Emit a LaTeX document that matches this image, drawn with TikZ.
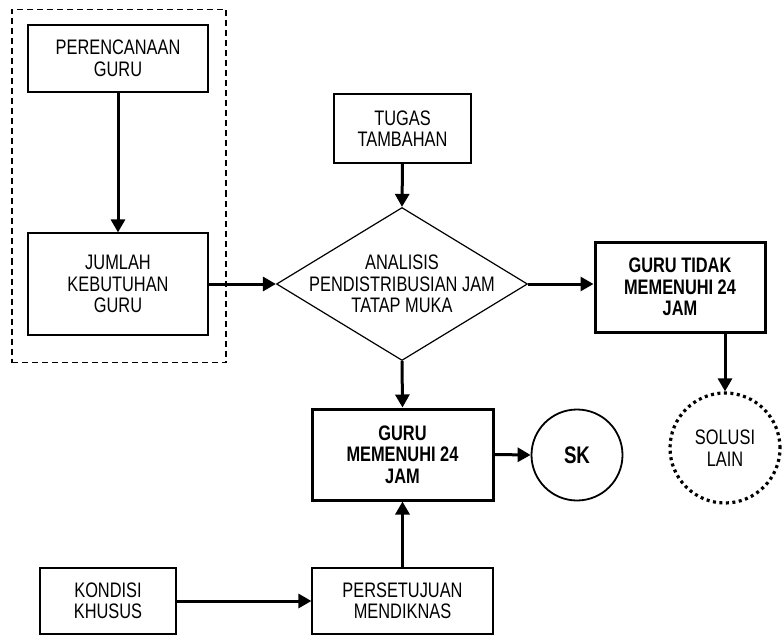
\documentclass[tikz,border=0pt]{standalone}
\usepackage{fontspec}
\setmainfont{Liberation Sans}[FakeStretch=0.78]
\usetikzlibrary{arrows.meta,shapes.geometric}
\begin{document}
\begin{tikzpicture}[x=1pt,y=-1pt,
  txt/.style={align=center,font=\fontsize{21}{21.5}\selectfont,inner sep=0pt},
  thinbox/.style={draw,line width=1.2pt,txt},
  thickbox/.style={draw,line width=3pt,txt,font=\fontsize{21}{21.5}\selectfont\bfseries},
  arr/.style={line width=3pt,-{Triangle[length=13pt,width=14pt]}},
]
\useasboundingbox (0,0) rectangle (783,636);
% dashed group
\node[draw,dashed,line width=1.2pt,dash pattern=on 6pt off 4pt,minimum width=214pt,minimum height=353pt,inner sep=0pt] (grp) at (119,186) {};
\node[thinbox,minimum width=180pt,minimum height=67pt] (pg) at (118,58.5) {PERENCANAAN\\GURU};
\node[thinbox,minimum width=180pt,minimum height=102pt] (jk) at (118,284) {JUMLAH\\KEBUTUHAN\\GURU};
\node[thinbox,minimum width=137pt,minimum height=69pt] (tt) at (402.5,128.5) {TUGAS\\TAMBAHAN};
\node[draw,diamond,line width=1.2pt,minimum width=251pt,minimum height=153pt,inner sep=0pt] (d) at (402,284) {};
\node[txt] (dt) at (d.center) {ANALISIS\\PENDISTRIBUSIAN JAM\\TATAP MUKA};
\node[thickbox,minimum width=170pt,minimum height=90pt] (gt) at (680,287) {GURU TIDAK\\MEMENUHI 24\\JAM};
\node[draw,circle,dotted,line width=3.2pt,dash pattern=on 3pt off 3.5pt,minimum size=110pt,inner sep=0pt] (sl) at (725,448) {};
\node[txt] (slt) at (sl.center) {SOLUSI\\LAIN};
\node[thickbox,minimum width=181pt,minimum height=91pt] (gm) at (402.5,454.5) {GURU\\MEMENUHI 24\\JAM};
\node[draw,circle,line width=1.8pt,minimum size=91pt,inner sep=0pt,font=\fontsize{24}{26}\selectfont\bfseries] (sk) at (577,455) {SK};
\node[thinbox,minimum width=181pt,minimum height=66pt] (pm) at (402.5,601) {PERSETUJUAN\\MENDIKNAS};
\node[thinbox,minimum width=136pt,minimum height=66pt] (kk) at (108,601) {KONDISI\\KHUSUS};
% connectors
\draw[arr] (pg.south) -- (jk.north);
\draw[arr] (jk.east) -- (d.west);
\draw[arr] (tt.south) -- (d.north);
\draw[arr] (d.east) -- (d.east -| gt.west);
\draw[arr] (gt.south -| sl.north) -- (sl.north);
\draw[arr] (d.south) -- (gm.north);
\draw[arr] (gm.east) -- (sk.west);
\draw[arr] (pm.north) -- (gm.south);
\draw[arr] (kk.east) -- (pm.west);
\end{tikzpicture}
\end{document}
